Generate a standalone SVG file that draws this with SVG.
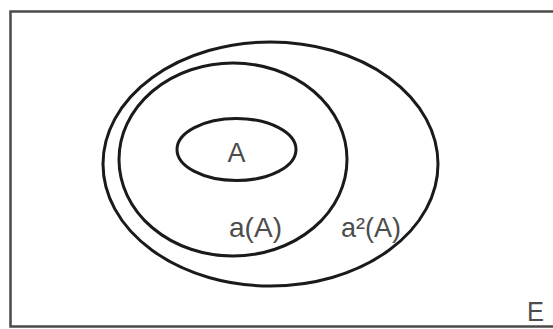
<svg xmlns="http://www.w3.org/2000/svg" width="553" height="329" viewBox="0 0 553 329">
<style>
.set{fill:none;stroke:#1a1a1a;stroke-width:3}
.lbl{font-family:"Liberation Sans",Arial,sans-serif;font-size:28px;fill:#4d4d4d}
</style>
<rect width="553" height="329" fill="#ffffff"/>
<g id="E">
<rect x="10.5" y="11.5" width="560" height="315" fill="none" stroke="#4a4a4a" stroke-width="2.5"/>
<text class="lbl" x="527" y="321" textLength="17" lengthAdjust="spacingAndGlyphs">E</text>
</g>
<g id="a2A">
<ellipse class="set" cx="270.5" cy="164" rx="167.5" ry="122"/>
<text class="lbl" x="341" y="237" textLength="60" lengthAdjust="spacingAndGlyphs">a²(A)</text>
</g>
<g id="aA">
<ellipse class="set" cx="233" cy="159.5" rx="114" ry="96.5"/>
<text class="lbl" x="229" y="237" textLength="53" lengthAdjust="spacingAndGlyphs">a(A)</text>
</g>
<g id="A">
<ellipse class="set" cx="236.5" cy="149.5" rx="59.5" ry="31"/>
<text class="lbl" x="227.5" y="162" textLength="18" lengthAdjust="spacingAndGlyphs">A</text>
</g>
<g id="connectors"/>
</svg>
